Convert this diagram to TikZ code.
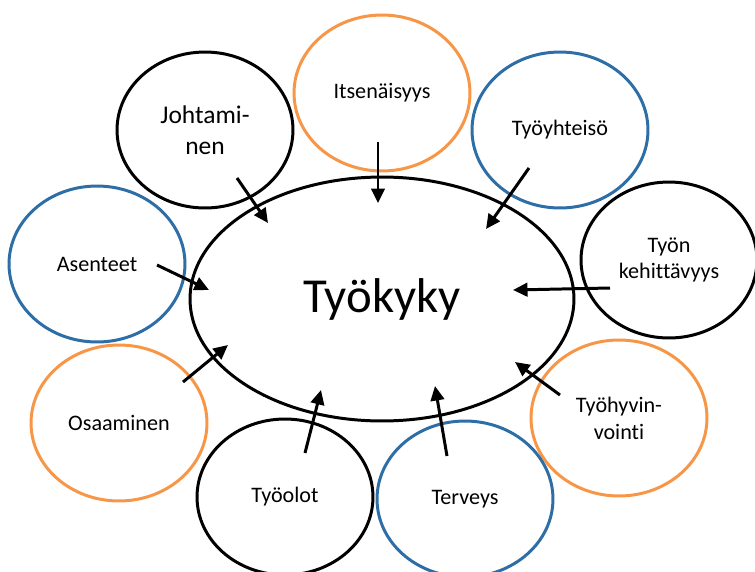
\documentclass[tikz,border=0pt]{standalone}
\usepackage{fontspec}
\setmainfont[Ligatures=NoCommon]{Carlito}
\usepackage{tikz}
\usetikzlibrary{arrows.meta,shapes.geometric}
\definecolor{ringorange}{RGB}{247,150,70}
\definecolor{ringblue}{RGB}{46,110,166}
\newcommand{\ringw}{1.7pt}
\newcommand{\satfont}{\fontsize{12.6}{15.3}\selectfont}

\begin{document}
\begin{tikzpicture}[x=0.02cm,y=-0.02cm]
            \tikzset{sat/.style = {ellipse, draw, line width=\ringw, minimum width=3.52cm, minimum height=3.12cm, inner sep=0pt, align=center, font=\satfont}}
            \tikzset{arr/.style = {line width=\ringw, -{Triangle[length=0.29cm,width=0.27cm]}}}
            \useasboundingbox (0,0) rectangle (755,572);

            \node[sat, draw=ringorange] (its) at (382,93) {Itsenäisyys};
            \node[sat, font=\fontsize{14.5}{17.5}\selectfont] (joh) at (205,130) {Johtami-\\nen};
            \node[sat, draw=ringblue] (tyh) at (560,130) {Työyhteisö};
            \node[sat, draw=ringblue] (ase) at (97,264) {Asenteet};
            \node[sat] (keh) at (669,260) {Työn\\kehittävyys};
            \node[sat, draw=ringorange] (osa) at (119,423) {Osaaminen};
            \node[sat, draw=ringorange] (hyv) at (619,418) {Työhyvin-\\vointi};
            \node[sat] (olo) at (285,497) {Työolot};
            \node[sat, draw=ringblue] (ter) at (465,499) {Terveys};

            \node[ellipse, draw, line width=\ringw, minimum width=7.68cm, minimum height=4.88cm,
                  font=\fontsize{27.8}{32}\selectfont] (tk) at (382,299) {Työkyky};

            \coordinate (joh-a) at (237,178); \coordinate (joh-b) at (268,223);
            \coordinate (its-a) at (378,142); \coordinate (its-b) at (378,203);
            \coordinate (tyh-a) at (529,168); \coordinate (tyh-b) at (486,229);
            \coordinate (ase-a) at (157,265); \coordinate (ase-b) at (209,290);
            \coordinate (keh-a) at (610,288); \coordinate (keh-b) at (513,290);
            \coordinate (hyv-a) at (560,395); \coordinate (hyv-b) at (515,362);
            \coordinate (ter-a) at (447,456); \coordinate (ter-b) at (435,386);
            \coordinate (olo-a) at (305,453); \coordinate (olo-b) at (321,390);
            \coordinate (osa-a) at (183,382); \coordinate (osa-b) at (228,345);

            \draw[arr] (joh-a) -- (joh-b);
            \draw[arr] (its-a) -- (its-b);
            \draw[arr] (tyh-a) -- (tyh-b);
            \draw[arr] (ase-a) -- (ase-b);
            \draw[arr] (keh-a) -- (keh-b);
            \draw[arr] (hyv-a) -- (hyv-b);
            \draw[arr] (ter-a) -- (ter-b);
            \draw[arr] (olo-a) -- (olo-b);
            \draw[arr] (osa-a) -- (osa-b);
\end{tikzpicture}
\end{document}
